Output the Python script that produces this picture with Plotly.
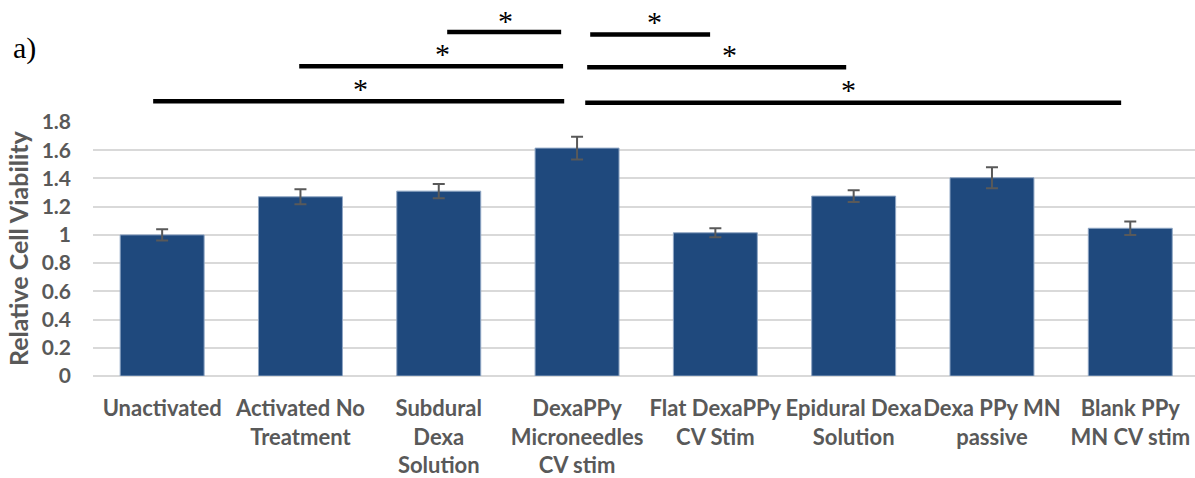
import plotly.graph_objects as go

# Relative cell viability per treatment group (mean ± error)
categories = [
    "Unactivated",
    "Activated No<br>Treatment",
    "Subdural<br>Dexa<br>Solution",
    "DexaPPy<br>Microneedles<br>CV stim",
    "Flat DexaPPy<br>CV Stim",
    "Epidural Dexa<br>Solution",
    "Dexa PPy MN<br>passive",
    "Blank PPy<br>MN CV stim",
]
viability = [1.00, 1.27, 1.31, 1.615, 1.015, 1.275, 1.405, 1.047]
errors = [0.04, 0.053, 0.05, 0.08, 0.032, 0.042, 0.074, 0.047]

y_ticks = [0, 0.2, 0.4, 0.6, 0.8, 1.0, 1.2, 1.4, 1.6, 1.8]
y_tick_text = ["0", "0.2", "0.4", "0.6", "0.8", "1", "1.2", "1.4", "1.6", "1.8"]

# Significance brackets: (start, end) in category units and height in data units
sig_spans = [(-0.065, 2.907), (0.991, 2.899), (2.061, 2.885),
             (3.059, 6.934), (3.073, 4.946), (3.095, 3.962)]
sig_heights = [1.947, 2.195, 2.438, 1.937, 2.188, 2.420]
star_x = [1.435, 2.025, 2.485, 4.960, 4.100, 3.561]
star_y = [2.035, 2.285, 2.52, 2.03, 2.275, 2.51]

Y_MAX = 1.8
BAR_COLOR = "#1F497D"
TEXT_GRAY = "#595959"

fig = go.Figure()
fig.add_trace(go.Bar(
    x=list(range(len(categories))),
    y=viability,
    marker=dict(color=BAR_COLOR, line=dict(color="#8FA6C4", width=1)),
    error_y=dict(type="data", array=errors, visible=True,
                 color=TEXT_GRAY, thickness=2, width=6),
    showlegend=False,
))

shapes = []
for (x0, x1), h in zip(sig_spans, sig_heights):
    shapes.append(dict(type="line", xref="x", yref="paper",
                       x0=x0, x1=x1, y0=h / Y_MAX, y1=h / Y_MAX,
                       line=dict(color="black", width=4.5)))

annotations = []
for sx, sy in zip(star_x, star_y):
    annotations.append(dict(x=sx, y=sy / Y_MAX, xref="x", yref="paper",
                            text="*", showarrow=False, yanchor="middle",
                            font=dict(family="Liberation Serif", size=30, color="black")))

annotations.append(dict(x=0, y=1, xref="paper", yref="paper", xshift=-69,
                        yshift=74, text="a)", showarrow=False,
                        xanchor="center", yanchor="middle",
                        font=dict(family="Liberation Serif", size=30, color="black")))

annotations.append(dict(x=0, y=0.5, xref="paper", yref="paper", xshift=-75,
                        yshift=1, text="Relative Cell Viability", textangle=-90,
                        showarrow=False, xanchor="center", yanchor="middle",
                        font=dict(family="Lato", size=25, color=TEXT_GRAY, weight="bold")))

fig.update_layout(
    width=1195, height=478,
    margin=dict(l=93, r=0, t=122, b=102),
    paper_bgcolor="white", plot_bgcolor="white",
    bargap=0.393,
    shapes=shapes,
    annotations=annotations,
    font=dict(family="Lato", color=TEXT_GRAY),
)
fig.update_xaxes(
    range=[-0.5, 7.468],
    tickmode="array", tickvals=list(range(len(categories))), ticktext=categories,
    tickfont=dict(family="Lato", size=22, color=TEXT_GRAY, weight="bold"),
    ticks="", showgrid=False, showline=False, zeroline=False,
    ticklabelstandoff=17, tickangle=0,
)
fig.update_yaxes(
    range=[0, Y_MAX],
    tickmode="array", tickvals=y_ticks, ticktext=y_tick_text,
    tickfont=dict(family="Lato", size=21, color=TEXT_GRAY, weight="bold"),
    ticks="", showgrid=True, gridcolor="#D9D9D9", gridwidth=1.5,
    zeroline=True, zerolinecolor="#D9D9D9", zerolinewidth=1.5,
    showline=False, ticklabelstandoff=21,
)

fig.write_html("out.html")
